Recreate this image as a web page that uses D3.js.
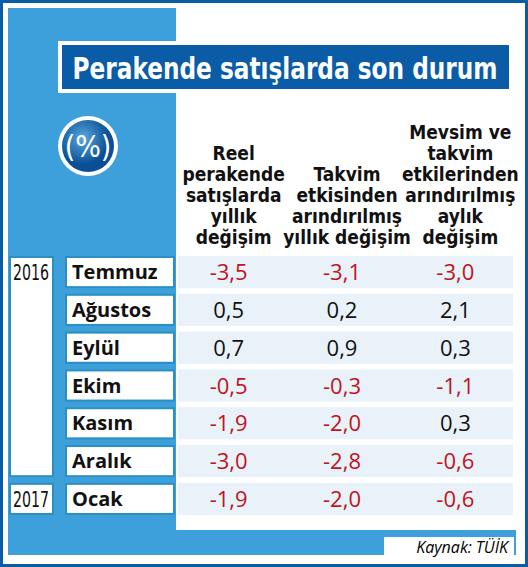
<!DOCTYPE html>
<html><head><meta charset="utf-8">
<script src="https://cdn.jsdelivr.net/npm/d3@7"></script>
<style>body{margin:0;background:#fff} .cn{font-stretch:condensed}</style>
</head><body><div id="chart"></div>
<script>
const months = ['Temmuz', 'Ağustos', 'Eylül', 'Ekim', 'Kasım', 'Aralık', 'Ocak'];
const years = [{ year: '2016', from: 0, to: 5 }, { year: '2017', from: 6, to: 6 }];
const headers = [
  ['Reel', 'perakende', 'satışlarda', 'yıllık', 'değişim'],
  ['Takvim', 'etkisinden', 'arındırılmış', 'yıllık değişim'],
  ['Mevsim ve', 'takvim', 'etkilerinden', 'arındırılmış', 'aylık', 'değişim'],
];
const reel = [-3.5, 0.5, 0.7, -0.5, -1.9, -3.0, -1.9];
const takvim = [-3.1, 0.2, 0.9, -0.3, -2.0, -2.8, -2.0];
const mevsim = [-3.0, 2.1, 0.3, -1.1, 0.3, -0.6, -0.6];
const series = [reel, takvim, mevsim];

const width = 528, height = 567;
const dark = '#0b5ca6', light = '#3da0da', red = '#c0141d';
const cond = '"DejaVu Sans Condensed", "DejaVu Sans", sans-serif';

const svg = d3.select('#chart').append('svg').attr('width', width).attr('height', height);

svg.append('rect').attr('x', 1.5).attr('y', 1.5).attr('width', width - 3).attr('height', height - 3)
  .attr('fill', '#fff').attr('stroke', dark).attr('stroke-width', 3);
svg.append('rect').attr('x', 8).attr('y', 8).attr('width', 168).attr('height', 547).attr('fill', light);
svg.append('rect').attr('x', 8).attr('y', 530).attr('width', 508).attr('height', 25).attr('fill', light);
svg.append('rect').attr('x', 384).attr('y', 537).attr('width', 130).attr('height', 18).attr('fill', '#fff');
svg.append('text').attr('x', 508).attr('y', 553).attr('text-anchor', 'end')
  .attr('font-family', '"Open Sans", sans-serif').attr('font-style', 'italic').attr('font-size', 16)
  .text('Kaynak: TÜİK');

// title
svg.append('rect').attr('x', 58).attr('y', 41).attr('width', 455).attr('height', 52).attr('fill', '#fff');
svg.append('rect').attr('x', 62).attr('y', 45).attr('width', 447).attr('height', 44).attr('fill', dark);
svg.append('text').attr('class', 'cn').attr('x', 285).attr('y', 79).attr('text-anchor', 'middle')
  .attr('font-family', cond).attr('font-weight', 'bold').attr('font-size', 30).attr('fill', '#fff')
  .attr('textLength', 425).attr('lengthAdjust', 'spacingAndGlyphs')
  .text('Perakende satışlarda son durum');

// percent badge
const grad = svg.append('defs').append('radialGradient').attr('id', 'g').attr('cx', '40%').attr('cy', '35%');
grad.append('stop').attr('offset', '0%').attr('stop-color', '#5aa8e0');
grad.append('stop').attr('offset', '100%').attr('stop-color', '#0a4f95');
svg.append('circle').attr('cx', 88).attr('cy', 146).attr('r', 30).attr('fill', '#fff');
svg.append('circle').attr('cx', 88).attr('cy', 146).attr('r', 26).attr('fill', 'url(#g)');
svg.append('text').attr('class', 'cn').attr('x', 88).attr('y', 157).attr('text-anchor', 'middle')
  .attr('font-family', cond).attr('font-size', 30).attr('fill', '#fff').text('(%)');

const x = d3.scaleBand().domain(d3.range(3)).range([180, 520]).padding(0);
const y = d3.scaleBand().domain(d3.range(months.length)).range([256, 515]).paddingInner(0.15);

// headers (bottom aligned)
headers.forEach((lines, i) => {
  const t = svg.append('text').attr('class', 'cn').attr('text-anchor', 'middle').attr('font-family', cond)
    .attr('font-weight', 'bold').attr('font-size', 19).attr('fill', '#111');
  lines.forEach((l, j) => t.append('tspan').attr('x', x(i) + x.bandwidth() / 2 - 3)
    .attr('y', 244 - (lines.length - 1 - j) * 21).text(l));
});

// row stripes
svg.append('g').selectAll('rect').data(months).join('rect')
  .attr('x', 178).attr('y', (d, i) => y(i)).attr('width', 335).attr('height', y.bandwidth())
  .attr('fill', '#e9f1f9');

// month boxes
svg.append('g').selectAll('rect').data(months).join('rect')
  .attr('x', 66).attr('y', (d, i) => y(i) + 1).attr('width', 108).attr('height', y.bandwidth() - 2)
  .attr('fill', '#fff').attr('stroke', '#2b8fc4').attr('stroke-width', 2);
svg.append('g').selectAll('text').data(months).join('text')
  .attr('x', 72).attr('y', (d, i) => y(i) + y.bandwidth() / 2 + 7)
  .attr('font-family', '"Open Sans", sans-serif').attr('font-weight', 'bold').attr('font-size', 20)
  .attr('fill', '#111').text(d => d);

// year boxes
years.forEach(yr => {
  const top = y(yr.from) + 1, bot = y(yr.to) + y.bandwidth() - 1;
  svg.append('rect').attr('x', 10).attr('y', top).attr('width', 43).attr('height', bot - top)
    .attr('fill', '#fff').attr('stroke', '#2b8fc4').attr('stroke-width', 2);
  svg.append('text').attr('class', 'cn').attr('x', 31).attr('y', y(yr.from) + y.bandwidth() / 2 + 8)
    .attr('text-anchor', 'middle').attr('font-family', cond).attr('font-size', 21).attr('fill', '#111')
    .attr('textLength', 36).attr('lengthAdjust', 'spacingAndGlyphs').text(yr.year);
});

// values
const fmt = v => d3.format('.1f')(v).replace('.', ',').replace('−', '-');
series.forEach((vals, i) => {
  svg.append('g').selectAll('text').data(vals).join('text')
    .attr('x', x(i) + x.bandwidth() / 2 - 8).attr('y', (d, j) => y(j) + y.bandwidth() / 2 + 8)
    .attr('text-anchor', 'middle').attr('font-family', '"Open Sans", sans-serif').attr('font-size', 22)
    .attr('fill', d => d < 0 ? red : '#111').text(fmt);
});
</script></body></html>
